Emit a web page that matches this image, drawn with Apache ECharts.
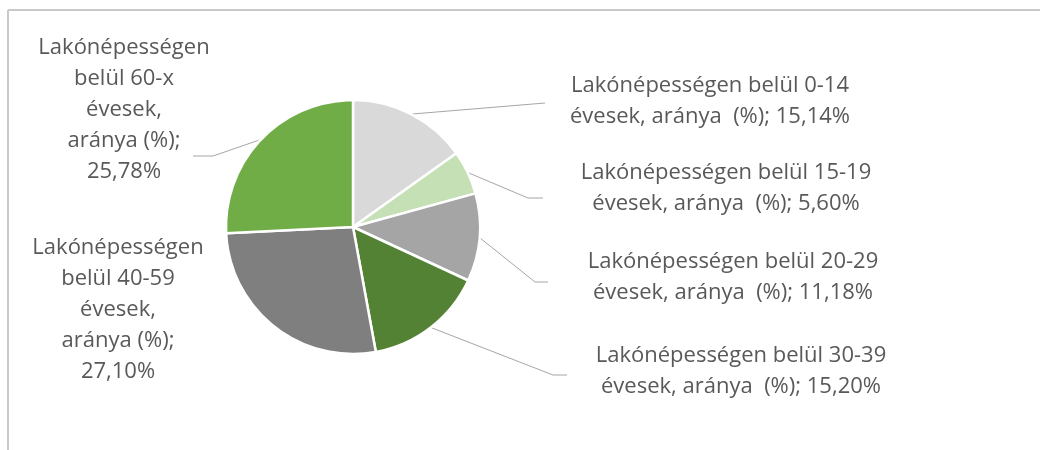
<!DOCTYPE html>
<html>
<head>
<meta charset="utf-8">
<script src="https://cdn.jsdelivr.net/npm/echarts@6/dist/echarts.min.js"></script>
<style>
  html, body { margin: 0; padding: 0; background: #fff; }
  #chart { width: 1040px; height: 450px; }
</style>
</head>
<body>
<div id="chart"></div>
<script>
// Age groups of the resident population and their shares (%)
const ageGroups = ['0-14', '15-19', '20-29', '30-39', '40-59', '60-x'];
const shares = [15.14, 5.60, 11.18, 15.20, 27.10, 25.78];
const sliceColors = ['#D9D9D9', '#C5E0B4', '#A5A5A5', '#548235', '#7F7F7F', '#70AD47'];

// Label block centres and leader-line elbows/ends, per slice
const labelAnchors = [[710, 101], [726, 188], [733, 277], [741, 371], [118, 310], [124, 110]];
const leaderBends = [[545, 103], [528, 198], [535, 282], [553, 375], null, [213, 156]];
const leaderEnds = [[545, 103], [543, 198], [548, 282], [567, 375], null, [193, 156]];
const leftSide = [false, false, false, false, true, true];

const fmtPct = v => v.toFixed(2).replace('.', ',') + '%';

function labelText(i) {
  const g = ageGroups[i];
  const v = fmtPct(shares[i]);
  if (leftSide[i]) {
    return ['Lakónépességen', 'belül ' + g, 'évesek,', 'aránya (%);', v].join('\n');
  }
  return 'Lakónépességen belül ' + g + '\névesek, aránya  (%); ' + v;
}

const chart = echarts.init(document.getElementById('chart'), null, { renderer: 'canvas' });

chart.setOption({
  animation: false,
  backgroundColor: '#ffffff',
  graphic: [
    { type: 'line', shape: { x1: 8, y1: 10, x2: 1040, y2: 10 }, style: { stroke: '#C9C9C9', lineWidth: 2 } },
    { type: 'line', shape: { x1: 8, y1: 10, x2: 8, y2: 450 }, style: { stroke: '#C9C9C9', lineWidth: 2 } }
  ],
  series: [{
    type: 'pie',
    center: [353, 227],
    radius: 127,
    startAngle: 90,
    clockwise: true,
    avoidLabelOverlap: false,
    itemStyle: { borderColor: '#ffffff', borderWidth: 2.5 },
    label: {
      show: true,
      position: 'outside',
      formatter: p => labelText(p.dataIndex),
      fontFamily: '"Open Sans", sans-serif',
      fontSize: 22,
      lineHeight: 31,
      color: '#595959',
      align: 'center'
    },
    labelLine: {
      show: true,
      length: 20,
      length2: 20,
      lineStyle: { color: '#A6A6A6', width: 1 }
    },
    labelLayout: function (params) {
      const i = params.dataIndex;
      const out = {
        x: labelAnchors[i][0],
        y: labelAnchors[i][1],
        align: 'center',
        verticalAlign: 'middle'
      };
      if (leaderEnds[i] && params.labelLinePoints) {
        const start = params.labelLinePoints[0];
        out.labelLinePoints = [start, leaderBends[i], leaderEnds[i]];
      }
      return out;
    },
    data: ageGroups.map((g, i) => ({
      name: g,
      value: shares[i],
      itemStyle: { color: sliceColors[i] },
      labelLine: { show: leaderEnds[i] !== null }
    }))
  }]
});
</script>
</body>
</html>
